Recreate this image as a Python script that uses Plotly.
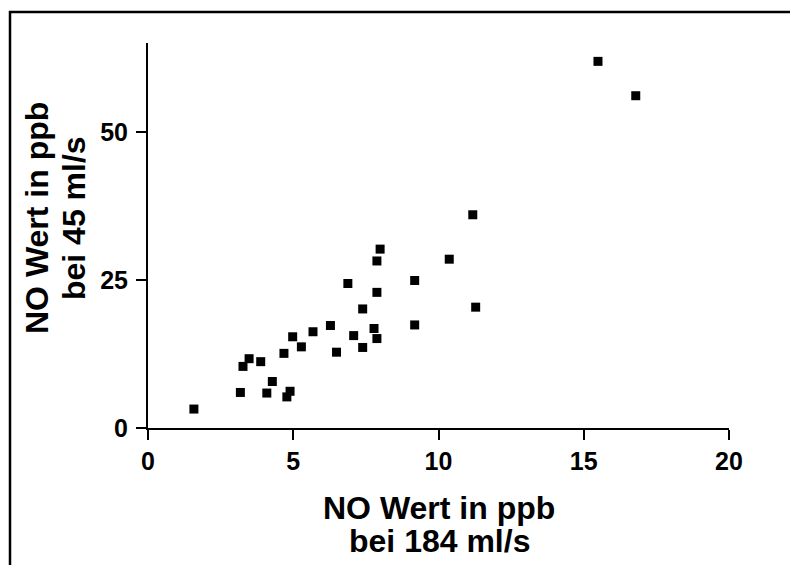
import plotly.graph_objects as go

no_184 = [1.58, 3.18, 3.27, 3.48, 3.88, 4.09, 4.28, 4.68, 4.78, 4.89, 4.98, 5.28,
          5.68, 6.28, 6.49, 6.88, 7.08, 7.39, 7.39, 7.78, 7.88, 7.88, 7.88, 7.99,
          11.18, 10.37, 9.18, 11.28, 9.18, 15.49, 16.79]
no_45 = [3.2, 6.0, 10.4, 11.7, 11.2, 5.9, 7.85, 12.6, 5.25, 6.2, 15.4, 13.7,
         16.25, 17.3, 12.8, 24.4, 15.6, 20.1, 13.6, 16.8, 22.9, 28.2, 15.1, 30.2,
         36.0, 28.5, 24.9, 20.4, 17.4, 61.9, 56.1]

x_ticks = [0, 5, 10, 15, 20]
y_ticks = [0, 25, 50]
x_title_lines = ["NO Wert in ppb", "bei 184 ml/s"]
y_title_lines = ["NO Wert in ppb", "bei 45 ml/s"]

W, H = 790, 565
L, R, T, B = 148, 61, 43, 137
pw, ph = W - L - R, H - T - B

font_family = "Liberation Sans, Arial, sans-serif"


def px_x(p):
    return (p - L) / pw


def px_y(p):
    return (H - B - p) / ph


fig = go.Figure()
fig.add_trace(go.Scatter(
    x=no_184, y=no_45, mode="markers",
    marker=dict(symbol="square", size=9, color="black", line=dict(width=0)),
    showlegend=False, cliponaxis=False,
))

axis_common = dict(
    showline=True, linecolor="black", linewidth=2,
    ticks="outside", ticklen=10, tickwidth=2, tickcolor="black",
    showgrid=False, zeroline=False,
    tickfont=dict(family=font_family, size=25, color="black", weight="bold"),
    fixedrange=True,
)

fig.update_layout(
    width=W, height=H,
    margin=dict(l=L, r=R, t=T, b=B),
    paper_bgcolor="white", plot_bgcolor="white",
    xaxis=dict(range=[0, 20], tickvals=x_ticks, ticklabelstandoff=0, **axis_common),
    yaxis=dict(range=[0, 65], tickvals=y_ticks, ticklabelstandoff=3, **axis_common),
    font=dict(family=font_family, color="black"),
)

title_font = dict(family=font_family, size=32, color="black", weight="bold")

# x axis title (two lines)
for text, yc in zip(x_title_lines, [508, 541]):
    fig.add_annotation(
        text=text, xref="paper", yref="paper",
        x=px_x(439), y=px_y(yc), xanchor="center", yanchor="middle",
        showarrow=False, font=title_font,
    )

# y axis title (two lines, rotated)
for text, xc in zip(y_title_lines, [37, 74]):
    fig.add_annotation(
        text=text, xref="paper", yref="paper", textangle=-90,
        x=px_x(xc), y=px_y(218), xanchor="center", yanchor="middle",
        showarrow=False, font=title_font,
    )

# outer frame (top and left visible)
fig.add_shape(
    type="rect", xref="paper", yref="paper",
    x0=px_x(10), x1=px_x(800),
    y0=px_y(600), y1=px_y(12),
    line=dict(color="black", width=2.5), fillcolor="rgba(0,0,0,0)",
)

fig.write_html("out.html")
